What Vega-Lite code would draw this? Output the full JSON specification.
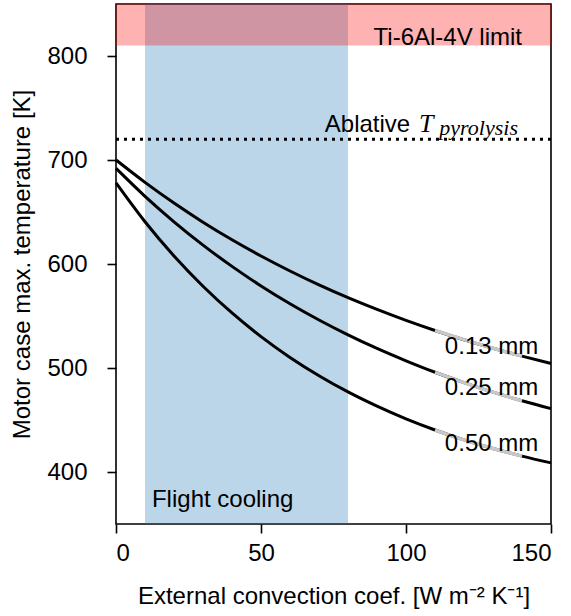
{
  "$schema": "https://vega.github.io/schema/vega-lite/v6.json",
  "autosize": {"type": "none"},
  "padding": {"left": 116, "top": 4, "right": 20, "bottom": 92},
  "width": 435,
  "height": 520,
  "background": "white",
  "config": {
    "view": {"stroke": "black", "strokeWidth": 1.6},
    "font": "Liberation Sans",
    "axis": {
      "domain": false,
      "grid": false,
      "tickColor": "black",
      "tickWidth": 1.6,
      "tickSize": 9,
      "labelFont": "Liberation Sans",
      "labelFontSize": 24,
      "labelColor": "black",
      "titleFont": "Liberation Sans",
      "titleFontSize": 24,
      "titleFontWeight": "normal",
      "titleColor": "black"
    }
  },
  "datasets": {
    "curves": [
      {"h": 0, "T": 700.0, "t": "0.13 mm"}, {"h": 10, "T": 678.5, "t": "0.13 mm"}, {"h": 20, "T": 658.6, "t": "0.13 mm"}, {"h": 30, "T": 640.2, "t": "0.13 mm"}, {"h": 40, "T": 623.3, "t": "0.13 mm"}, {"h": 50, "T": 607.7, "t": "0.13 mm"}, {"h": 60, "T": 593.3, "t": "0.13 mm"}, {"h": 70, "T": 579.9, "t": "0.13 mm"}, {"h": 80, "T": 567.6, "t": "0.13 mm"}, {"h": 90, "T": 556.3, "t": "0.13 mm"}, {"h": 100, "T": 545.8, "t": "0.13 mm"}, {"h": 110, "T": 536.1, "t": "0.13 mm"}, {"h": 120, "T": 527.2, "t": "0.13 mm"}, {"h": 130, "T": 519.0, "t": "0.13 mm"}, {"h": 140, "T": 511.4, "t": "0.13 mm"}, {"h": 150, "T": 504.3, "t": "0.13 mm"},
      {"h": 0, "T": 692.0, "t": "0.25 mm"}, {"h": 10, "T": 665.1, "t": "0.25 mm"}, {"h": 20, "T": 640.6, "t": "0.25 mm"}, {"h": 30, "T": 618.2, "t": "0.25 mm"}, {"h": 40, "T": 597.7, "t": "0.25 mm"}, {"h": 50, "T": 578.9, "t": "0.25 mm"}, {"h": 60, "T": 561.8, "t": "0.25 mm"}, {"h": 70, "T": 546.2, "t": "0.25 mm"}, {"h": 80, "T": 531.9, "t": "0.25 mm"}, {"h": 90, "T": 518.8, "t": "0.25 mm"}, {"h": 100, "T": 506.9, "t": "0.25 mm"}, {"h": 110, "T": 495.9, "t": "0.25 mm"}, {"h": 120, "T": 486.0, "t": "0.25 mm"}, {"h": 130, "T": 476.8, "t": "0.25 mm"}, {"h": 140, "T": 468.5, "t": "0.25 mm"}, {"h": 150, "T": 460.9, "t": "0.25 mm"},
      {"h": 0, "T": 678.0, "t": "0.50 mm"}, {"h": 10, "T": 640.6, "t": "0.50 mm"}, {"h": 20, "T": 607.7, "t": "0.50 mm"}, {"h": 30, "T": 578.6, "t": "0.50 mm"}, {"h": 40, "T": 552.9, "t": "0.50 mm"}, {"h": 50, "T": 530.2, "t": "0.50 mm"}, {"h": 60, "T": 510.2, "t": "0.50 mm"}, {"h": 70, "T": 492.6, "t": "0.50 mm"}, {"h": 80, "T": 477.0, "t": "0.50 mm"}, {"h": 90, "T": 463.3, "t": "0.50 mm"}, {"h": 100, "T": 451.1, "t": "0.50 mm"}, {"h": 110, "T": 440.4, "t": "0.50 mm"}, {"h": 120, "T": 430.9, "t": "0.50 mm"}, {"h": 130, "T": 422.6, "t": "0.50 mm"}, {"h": 140, "T": 415.3, "t": "0.50 mm"}, {"h": 150, "T": 408.8, "t": "0.50 mm"}
    ],
    "labels": [
      {"h": 129.5, "T": 520, "t": "0.13 mm"},
      {"h": 129.5, "T": 480.5, "t": "0.25 mm"},
      {"h": 129.5, "T": 427, "t": "0.50 mm"}
    ]
  },
  "layer": [
    {
      "data": {"values": [{"x1": 10, "x2": 80}]},
      "mark": {"type": "rect", "color": "#1f77b4", "opacity": 0.3},
      "encoding": {
        "x": {"field": "x1", "type": "quantitative", "scale": {"domain": [0, 150], "nice": false, "zero": false},
              "axis": {"values": [0, 50, 100, 150], "labelPadding": 8, "title": "External convection coef. [W m⁻² K⁻¹]", "titlePadding": 19}},
        "x2": {"field": "x2"}
      }
    },
    {
      "data": {"values": [{"y1": 810, "y2": 850}]},
      "mark": {"type": "rect", "color": "#ff0000", "opacity": 0.3},
      "encoding": {
        "y": {"field": "y1", "type": "quantitative", "scale": {"domain": [350, 850], "nice": false, "zero": false},
              "axis": {"values": [400, 500, 600, 700, 800], "labelPadding": 20, "title": "Motor case max. temperature [K]", "titlePadding": 12}},
        "y2": {"field": "y2"}
      }
    },
    {
      "data": {"values": [{"y": 720}]},
      "mark": {"type": "rule", "color": "black", "strokeWidth": 3, "strokeDash": [3, 5]},
      "encoding": {"y": {"field": "y", "type": "quantitative"}}
    },
    {
      "data": {"name": "curves"},
      "mark": {"type": "line", "color": "black", "strokeWidth": 3, "interpolate": "monotone"},
      "encoding": {
        "x": {"field": "h", "type": "quantitative"},
        "y": {"field": "T", "type": "quantitative"},
        "detail": {"field": "t"}
      }
    },
    {
      "data": {"name": "curves"},
      "transform": [{"filter": "datum.h >= 110 && datum.h <= 140"}],
      "mark": {"type": "line", "color": "#c8c8c8", "strokeWidth": 3.4, "interpolate": "monotone"},
      "encoding": {
        "x": {"field": "h", "type": "quantitative"},
        "y": {"field": "T", "type": "quantitative"},
        "detail": {"field": "t"}
      }
    },
    {
      "data": {"name": "labels"},
      "mark": {"type": "text", "fontSize": 24, "align": "center", "baseline": "middle", "color": "black"},
      "encoding": {
        "x": {"field": "h", "type": "quantitative"},
        "y": {"field": "T", "type": "quantitative"},
        "text": {"field": "t"}
      }
    },
    {
      "data": {"values": [{"x": 140, "y": 810.6, "s": "Ti-6Al-4V limit"}]},
      "mark": {"type": "text", "fontSize": 24, "align": "right", "baseline": "alphabetic", "color": "black"},
      "encoding": {"x": {"field": "x", "type": "quantitative"}, "y": {"field": "y", "type": "quantitative"}, "text": {"field": "s"}}
    },
    {
      "data": {"values": [{"x": 12.4, "y": 366.3, "s": "Flight cooling"}]},
      "mark": {"type": "text", "fontSize": 24, "align": "left", "baseline": "alphabetic", "color": "black"},
      "encoding": {"x": {"field": "x", "type": "quantitative"}, "y": {"field": "y", "type": "quantitative"}, "text": {"field": "s"}}
    },
    {
      "data": {"values": [{"x": 72, "y": 726.9, "s": "Ablative"}]},
      "mark": {"type": "text", "fontSize": 24, "align": "left", "baseline": "alphabetic", "color": "black"},
      "encoding": {"x": {"field": "x", "type": "quantitative"}, "y": {"field": "y", "type": "quantitative"}, "text": {"field": "s"}}
    },
    {
      "data": {"values": [{"x": 104.5, "y": 726.9, "s": "T"}]},
      "mark": {"type": "text", "font": "Liberation Serif", "fontStyle": "italic", "fontSize": 26, "align": "left", "baseline": "alphabetic", "color": "black"},
      "encoding": {"x": {"field": "x", "type": "quantitative"}, "y": {"field": "y", "type": "quantitative"}, "text": {"field": "s"}}
    },
    {
      "data": {"values": [{"x": 111.5, "y": 724.5, "s": "pyrolysis"}]},
      "mark": {"type": "text", "font": "Liberation Serif", "fontStyle": "italic", "fontSize": 22, "align": "left", "baseline": "alphabetic", "color": "black"},
      "encoding": {"x": {"field": "x", "type": "quantitative"}, "y": {"field": "y", "type": "quantitative"}, "text": {"field": "s"}}
    }
  ]
}
